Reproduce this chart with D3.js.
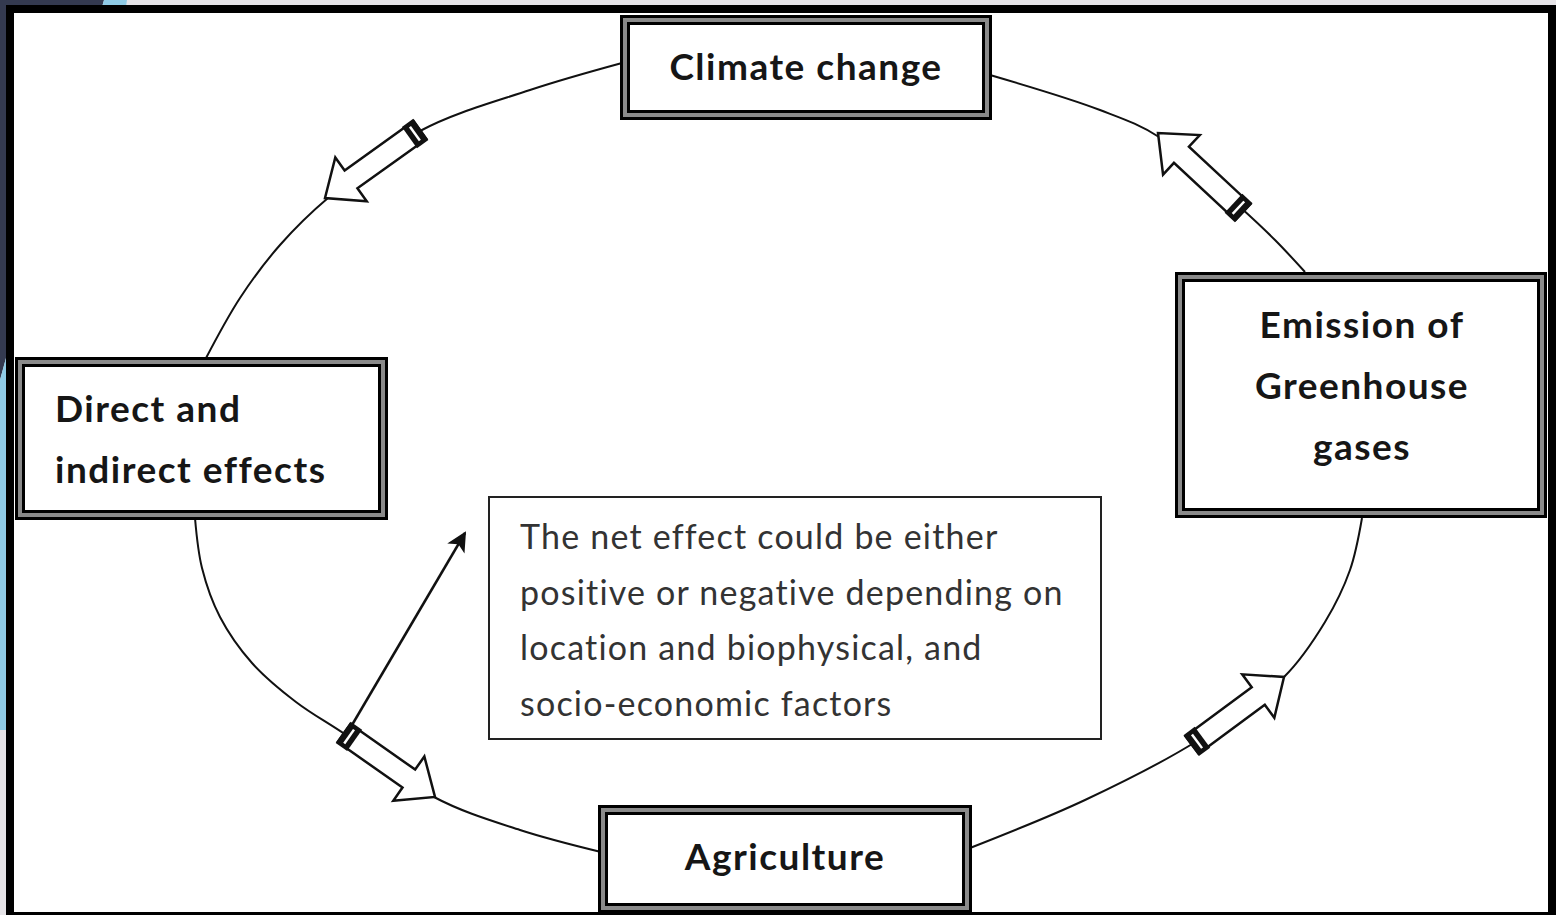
<!DOCTYPE html>
<html>
<head>
  <meta charset="utf-8">
  <title>Climate change and agriculture</title>
  <style>
    html, body { margin: 0; padding: 0; background: #e6e4e8; }
    svg { display: block; }
    .frame { fill: #fff; stroke: #000; stroke-width: 8px; }
    .box-outer { fill: #fff; stroke: #000; stroke-width: 10px; }
    .box-mid { fill: none; stroke: #8a8a8a; stroke-width: 4px; }
    .box-label { font-family: Lato, "Open Sans", sans-serif; font-weight: 700; font-size: 37px; letter-spacing: 1.5px; fill: #161616; }
    .note-box { fill: #fff; stroke: #222; stroke-width: 2px; }
    .note-text { font-family: Lato, "Open Sans", sans-serif; font-size: 34px; letter-spacing: 1.2px; fill: #333; }
    .connector { fill: none; stroke: #111; stroke-width: 2px; }
    .block-arrow { fill: #fff; stroke: #111; stroke-width: 2.5px; stroke-linejoin: miter; }
  </style>
</head>
<body>
  <div id="chart"></div>

  <script src="https://d3js.org/d3.v7.min.js"></script>
  <script>
    const width = 1556, height = 915;

    // text content
    const nodeNames = ["climate", "effects", "agriculture", "emission"];
    const nodeLines = [
      ["Climate change"],
      ["Direct and", "indirect effects"],
      ["Agriculture"],
      ["Emission of", "Greenhouse", "gases"]
    ];
    const nodeAlign = ["middle", "start", "middle", "middle"];
    const noteLines = [
      "The net effect could be either",
      "positive or negative depending on",
      "location and biophysical, and",
      "socio-economic factors"
    ];

    // layout: box rectangles [x, y, w, h] (border centre line)
    const nodeRects = [
      [625, 20, 362, 95],
      [20, 362, 363, 153],
      [603, 810, 364, 98],
      [1180, 277, 362, 236]
    ];
    const nodeTextPos = [[806, 80], [55, 422], [785, 870], [1362, 338]];
    const lineGap = 61;

    // cycle segments, each one runs from one box to the next
    const segments = [
      [[622, 63], [530, 90], [420, 131], [328, 198], [280, 245], [240, 298], [205, 360]],
      [[195, 518], [202, 568], [220, 617], [252, 663], [296, 702], [346, 735], [434, 797], [520, 830], [601, 852]],
      [[970, 848], [1085, 800], [1197, 741], [1284, 677], [1325, 622], [1350, 570], [1362, 518]],
      [[1305, 272], [1275, 240], [1240, 207], [1159, 137], [1100, 110], [990, 75]]
    ];
    // block arrows: [tail, tip]
    const blockArrows = [
      [[420, 130], [325, 198]],
      [[344, 733], [435, 797]],
      [[1192, 745], [1284, 677]],
      [[1243, 212], [1158, 133]]
    ];
    const thinArrow = [[352, 725], [465, 533]];

    const svg = d3.select("#chart")
      .append("svg")
      .attr("width", width)
      .attr("height", height)
      .attr("viewBox", `0 0 ${width} ${height}`);

    // background slide decoration
    svg.append("polygon")
      .attr("points", "0,0 104,0 0,380")
      .attr("fill", "#343a50");
    svg.append("polygon")
      .attr("points", "104,0 127,0 8,730 0,730 0,380")
      .attr("fill", "#8fcbe6");

    // white panel with black frame
    svg.append("rect")
      .attr("class", "frame")
      .attr("x", 10).attr("y", 9)
      .attr("width", 1542).attr("height", 907);

    const line = d3.line().curve(d3.curveCatmullRom.alpha(0.5));

    svg.selectAll(".connector")
      .data(segments)
      .enter()
      .append("path")
      .attr("class", "connector")
      .attr("d", d => line(d));

    // thin arrow pointing at the note
    const defs = svg.append("defs");
    defs.append("marker")
      .attr("id", "head")
      .attr("viewBox", "0 0 10 10")
      .attr("refX", 9).attr("refY", 5)
      .attr("markerWidth", 8).attr("markerHeight", 8)
      .attr("markerUnits", "strokeWidth")
      .attr("orient", "auto")
      .append("path")
      .attr("d", "M0,0 L10,5 L0,10 L2.5,5 Z")
      .attr("fill", "#111");

    svg.append("line")
      .attr("x1", thinArrow[0][0]).attr("y1", thinArrow[0][1])
      .attr("x2", thinArrow[1][0]).attr("y2", thinArrow[1][1])
      .attr("stroke", "#111")
      .attr("stroke-width", 2.5)
      .attr("marker-end", "url(#head)");

    // hollow block arrows with the small band at the tail
    const shaftHalf = 11, headHalf = 27, headLen = 32;
    blockArrows.forEach(([tail, tip]) => {
      const dx = tip[0] - tail[0], dy = tip[1] - tail[1];
      const len = Math.sqrt(dx * dx + dy * dy);
      const angle = Math.atan2(dy, dx) * 180 / Math.PI;
      const g = svg.append("g")
        .attr("transform", `translate(${tail[0]},${tail[1]}) rotate(${angle})`);
      const pts = [
        [0, -shaftHalf], [len - headLen, -shaftHalf], [len - headLen, -headHalf],
        [len, 0], [len - headLen, headHalf], [len - headLen, shaftHalf], [0, shaftHalf]
      ];
      g.append("polygon")
        .attr("class", "block-arrow")
        .attr("points", pts.map(p => p.join(",")).join(" "));
      g.append("rect")
        .attr("x", -1).attr("y", -shaftHalf - 2)
        .attr("width", 14).attr("height", 2 * shaftHalf + 4)
        .attr("fill", "#111");
      g.append("rect")
        .attr("x", 5).attr("y", -shaftHalf + 2.5)
        .attr("width", 2.5).attr("height", 2 * shaftHalf - 5)
        .attr("fill", "#fff");
    });

    // note box
    svg.append("rect")
      .attr("class", "note-box")
      .attr("x", 489).attr("y", 497)
      .attr("width", 612).attr("height", 242);
    svg.append("text")
      .attr("class", "note-text")
      .selectAll("tspan")
      .data(noteLines)
      .enter()
      .append("tspan")
      .attr("x", 520)
      .attr("y", (d, i) => 549 + i * 55.5)
      .text(d => d);

    // the four double-bordered boxes
    const nodes = svg.selectAll(".node")
      .data(nodeNames)
      .enter()
      .append("g")
      .attr("class", d => "node node-" + d);

    nodes.append("rect")
      .attr("class", "box-outer")
      .attr("x", (d, i) => nodeRects[i][0])
      .attr("y", (d, i) => nodeRects[i][1])
      .attr("width", (d, i) => nodeRects[i][2])
      .attr("height", (d, i) => nodeRects[i][3]);
    nodes.append("rect")
      .attr("class", "box-mid")
      .attr("x", (d, i) => nodeRects[i][0])
      .attr("y", (d, i) => nodeRects[i][1])
      .attr("width", (d, i) => nodeRects[i][2])
      .attr("height", (d, i) => nodeRects[i][3]);

    nodes.each(function (d, i) {
      const t = d3.select(this).append("text")
        .attr("class", "box-label")
        .attr("text-anchor", nodeAlign[i]);
      t.selectAll("tspan")
        .data(nodeLines[i])
        .enter()
        .append("tspan")
        .attr("x", nodeTextPos[i][0])
        .attr("y", (s, j) => nodeTextPos[i][1] + j * lineGap)
        .text(s => s);
    });
  </script>
</body>
</html>
